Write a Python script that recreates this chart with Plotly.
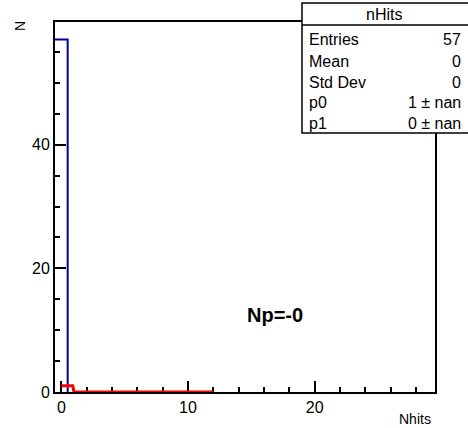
import plotly.graph_objects as go

# ---- data ----
bin_centers = list(range(0, 30))
counts = [57] + [0] * 29
fit_x = [0.0, 0.9, 1.0, 12.0]
fit_y = [1.0, 1.0, 0.0, 0.0]
stats_title = "nHits"
stats_labels = ["Entries", "Mean", "Std Dev", "p0", "p1"]
stats_values = ["57", "0", "0", "1 ± nan", "0 ± nan"]
label_text = "Np=-0"

W, H = 468, 428
L, R, T, B = 55, 435, 22, 392

def pxx(x):
    return (x - L) / (R - L)

def pyy(y):
    return (B - y) / (B - T)

# histogram outline from bin centres (only up to the last non-empty bin;
# the empty bins lie on the frame)
last = max(i for i, n in enumerate(counts) if n > 0)
edges_x, edges_y = [], []
for c, n in zip(bin_centers[:last + 1], counts[:last + 1]):
    edges_x += [c - 0.5, c + 0.5]
    edges_y += [n, n]
edges_x.append(bin_centers[last] + 0.5)
edges_y.append(0)

fig = go.Figure()
fig.add_trace(go.Scatter(x=edges_x, y=edges_y, mode="lines",
                         line=dict(color="#000099", width=2), hoverinfo="skip"))
fig.add_trace(go.Scatter(x=fit_x, y=fit_y, mode="lines", cliponaxis=False,
                         line=dict(color="#ff0000", width=3), hoverinfo="skip"))

font = "Liberation Sans, Arial, sans-serif"
fig.update_layout(
    width=W, height=H,
    margin=dict(l=L, r=W - R, t=T, b=H - B, pad=0),
    paper_bgcolor="white", plot_bgcolor="white",
    showlegend=False,
    font=dict(family=font, size=14, color="black"),
    xaxis=dict(range=[-0.5, 29.5], showgrid=False, zeroline=False,
               showline=True, linecolor="black", linewidth=2, mirror=True,
               layer="below traces",
               ticks="inside", ticklen=11, tickwidth=2, tickcolor="black",
               dtick=10, tick0=0,
               minor=dict(ticks="inside", ticklen=5, tickwidth=2, dtick=2, tick0=0, tickcolor="black", showgrid=False),
               tickfont=dict(size=16)),
    yaxis=dict(range=[0, 59.85], showgrid=False, zeroline=False,
               showline=True, linecolor="black", linewidth=2, mirror=True,
               layer="below traces",
               ticks="inside", ticklen=11, tickwidth=2, tickcolor="black",
               dtick=20, tick0=0,
               minor=dict(ticks="inside", ticklen=5, tickwidth=2, dtick=5, tick0=0, tickcolor="black", showgrid=False),
               tickfont=dict(size=16)),
)

annotations = []
shapes = []
# axis titles
annotations.append(dict(text="N", xref="paper", yref="paper", x=pxx(20), y=pyy(26),
                        showarrow=False, textangle=-90, font=dict(size=14),
                        xanchor="center", yanchor="middle"))
annotations.append(dict(text="Nhits", xref="paper", yref="paper", x=pxx(433), y=pyy(419),
                        showarrow=False, font=dict(size=14), xanchor="right", yanchor="middle"))
# label
annotations.append(dict(text="<b>" + label_text + "</b>", xref="paper", yref="paper",
                        x=pxx(275), y=pyy(315), showarrow=False, font=dict(size=20),
                        xanchor="center", yanchor="middle"))

# stats box
bx0, bx1, by0, by1, sep = 302, 472, 3, 133, 25
shapes.append(dict(type="rect", xref="paper", yref="paper",
                   x0=pxx(bx0), x1=pxx(bx1), y0=pyy(by1), y1=pyy(by0),
                   line=dict(color="black", width=1.5), fillcolor="white", layer="above"))
shapes.append(dict(type="line", xref="paper", yref="paper",
                   x0=pxx(bx0), x1=pxx(bx1), y0=pyy(sep), y1=pyy(sep),
                   line=dict(color="black", width=1.5), layer="above"))
annotations.append(dict(text=stats_title, xref="paper", yref="paper",
                        x=pxx(384), y=pyy(14), showarrow=False,
                        font=dict(size=16), xanchor="center", yanchor="middle"))
row_y = [40, 61, 82, 102, 123]
for lab, val, ry in zip(stats_labels, stats_values, row_y):
    annotations.append(dict(text=lab, xref="paper", yref="paper", x=pxx(bx0 + 5), y=pyy(ry),
                            showarrow=False, font=dict(size=16), xanchor="left", yanchor="middle"))
    annotations.append(dict(text=val, xref="paper", yref="paper", x=pxx(463), y=pyy(ry),
                            showarrow=False, font=dict(size=16), xanchor="right", yanchor="middle"))

fig.update_layout(annotations=annotations, shapes=shapes)
fig.write_html("out.html", config={"displayModeBar": False},
               post_script="document.body.style.margin='0';document.body.style.padding='0';")
